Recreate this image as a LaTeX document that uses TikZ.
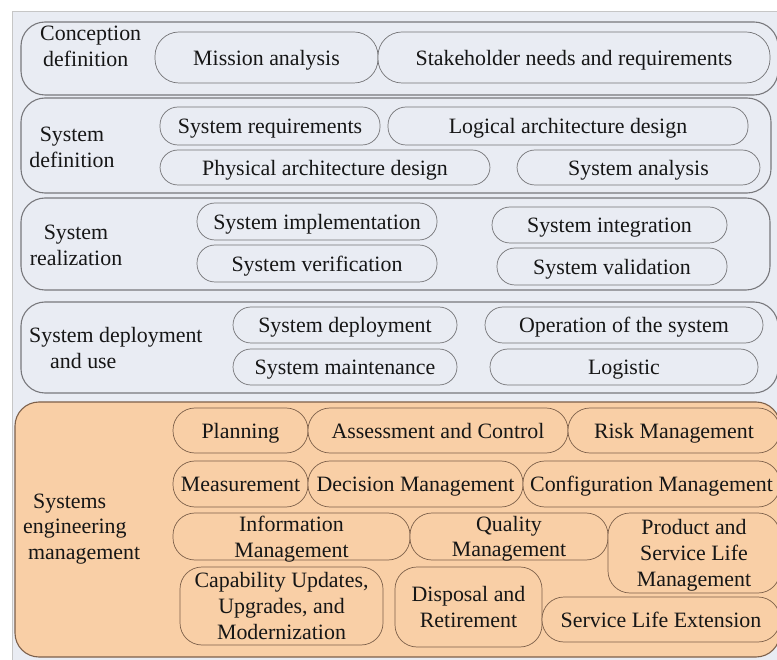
\documentclass[tikz,border=0pt]{standalone}
\usepackage{fontspec}
\setmainfont{Liberation Serif}
\definecolor{panelbg}{RGB}{233,236,243}
\definecolor{rowline}{RGB}{120,120,124}
\definecolor{pillline}{RGB}{115,115,118}
\definecolor{orangebg}{RGB}{249,207,166}
\definecolor{oline}{RGB}{125,96,74}
\definecolor{txt}{RGB}{22,22,22}
\newcommand{\mainsize}{\fontsize{21.9}{25.8}\selectfont}
\tikzset{
  rowbox/.style={draw=rowline, line width=1.1pt, rounded corners=24pt, fill=panelbg, inner sep=0pt},
  orow/.style={draw=oline, line width=1.1pt, rounded corners=24pt, fill=orangebg, inner sep=0pt},
  pill/.style={draw=pillline, line width=0.7pt, rounded corners=18pt, fill=panelbg, inner sep=0pt, text=txt, font=\mainsize, text depth=0pt},
  bigpill/.style={pill, rounded corners=24pt},
  opill/.style={draw=oline, line width=0.7pt, rounded corners=22pt, fill=orangebg, inner sep=0pt, align=center, text=txt, font=\mainsize, text depth=0pt},
  lbl/.style={align=center, inner sep=0pt, text=txt, font=\mainsize}
}
\begin{document}
\begin{tikzpicture}[x=1pt,y=-1pt]
\clip (0,0) rectangle (777,660);
\fill[white] (0,0) rectangle (777,660);
\draw[draw=gray!45, fill=panelbg] (12,11) rectangle (800,680);
% row boxes
\node[rowbox, minimum width=757pt, minimum height=73pt] (r1) at (399.5,58.5) {};
\node[rowbox, minimum width=750pt, minimum height=95pt] (r2) at (396,145.5) {};
\node[rowbox, minimum width=749pt, minimum height=92pt] (r3) at (395.5,244) {};
\node[rowbox, minimum width=757pt, minimum height=91pt] (r4) at (399.5,347.5) {};
\node[orow, minimum width=765pt, minimum height=255pt] (r5) at (397.5,529.5) {};
% row 1
\node[lbl, align=left, anchor=west] (l1) at (40,46) {Conception\\\hspace*{3pt}definition};
\node[bigpill, minimum width=223pt, minimum height=51pt] (mission) at (266.5,57.5) {Mission analysis};
\node[bigpill, minimum width=392pt, minimum height=51pt] (stake) at (574,57.5) {Stakeholder needs and requirements};
% row 2
\node[lbl] (l2) at (72,147) {System\\definition};
\node[pill, minimum width=220pt, minimum height=38pt] (sysreq) at (270,126) {System requirements};
\node[pill, minimum width=360pt, minimum height=38pt] (logical) at (568,126) {Logical architecture design};
\node[pill, minimum width=330pt, minimum height=35pt] (physical) at (325,167.5) {Physical architecture design};
\node[pill, minimum width=243pt, minimum height=35pt] (analysis) at (638.5,167.5) {System analysis};
% row 3
\node[lbl] (l3) at (76,245) {System\\realization};
\node[pill, minimum width=240pt, minimum height=37pt] (impl) at (317,221.5) {System implementation};
\node[pill, minimum width=240pt, minimum height=37pt] (verif) at (317,263.5) {System verification};
\node[pill, minimum width=235pt, minimum height=36pt] (integ) at (609.5,225) {System integration};
\node[pill, minimum width=230pt, minimum height=37pt] (valid) at (612,266.5) {System validation};
% row 4
\node[lbl, align=left, anchor=west] (l4) at (29,348) {System deployment\\\hspace*{21pt}and use};
\node[pill, minimum width=224pt, minimum height=36pt] (deploy) at (345,325) {System deployment};
\node[pill, minimum width=224pt, minimum height=36pt] (maint) at (345,367) {System maintenance};
\node[pill, minimum width=278pt, minimum height=36pt] (oper) at (624,325) {Operation of the system};
\node[pill, minimum width=268pt, minimum height=36pt] (logistic) at (624,367) {Logistic};
% row 5
\node[lbl, align=left, anchor=west] (l5) at (23,529) {\hspace*{10pt}Systems\\engineering\\\hspace*{5pt}management};
\node[opill, minimum width=135pt, minimum height=45pt] (planning) at (240.5,430.5) {Planning};
\node[opill, minimum width=260pt, minimum height=45pt] (assess) at (438,430.5) {Assessment and Control};
\node[opill, minimum width=212pt, minimum height=45pt] (risk) at (674,430.5) {Risk Management};
\node[opill, minimum width=135pt, minimum height=46pt] (measure) at (240.5,484) {Measurement};
\node[opill, minimum width=215pt, minimum height=46pt] (decision) at (415.5,484) {Decision Management};
\node[opill, minimum width=257pt, minimum height=46pt] (config) at (651.5,484) {Configuration Management};
\node[opill, minimum width=237pt, minimum height=47pt] (info) at (291.5,536.5) {Information\\Management};
\node[opill, minimum width=198pt, minimum height=47pt] (quality) at (509,536.5) {Quality\\Management};
\node[opill, minimum width=172pt, minimum height=80pt] (product) at (694,553) {Product and\\Service Life\\Management};
\node[opill, minimum width=203pt, minimum height=78pt] (capab) at (281.5,606) {Capability Updates,\\Upgrades, and\\Modernization};
\node[opill, minimum width=147pt, minimum height=80pt] (disposal) at (468.5,607) {Disposal and\\Retirement};
\node[opill, minimum width=238pt, minimum height=45pt] (service) at (661,619.5) {Service Life Extension};
\end{tikzpicture}
\end{document}
